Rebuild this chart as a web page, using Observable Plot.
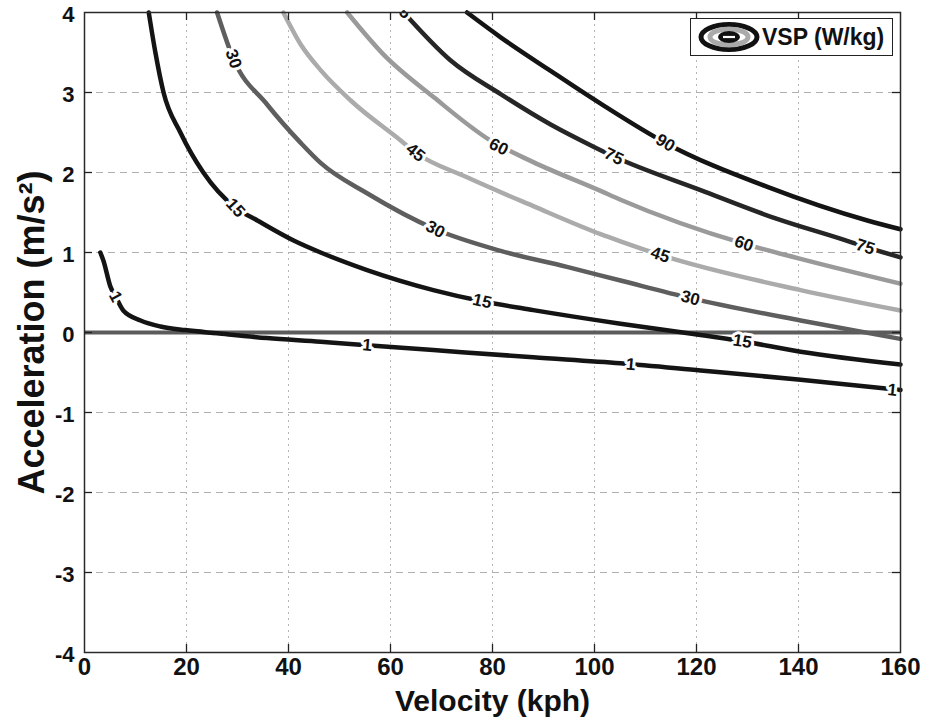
<!DOCTYPE html>
<html>
<head>
<meta charset="utf-8">
<script src="https://cdn.jsdelivr.net/npm/d3@7"></script>
<script src="https://cdn.jsdelivr.net/npm/@observablehq/plot@0.6"></script>
<style>
  body { margin: 0; background: #fff; font-family: "Liberation Sans", Arial, sans-serif; }
  #wrap { position: relative; width: 925px; height: 723px; }
  #legend { position: absolute; left: 690px; top: 18px; width: 203px; height: 38px;
            border: 1px solid #222; background: #fff; display: flex; align-items: center; box-sizing: border-box; }
  #legend span { font-weight: bold; font-size: 23px; margin-left: 1px; color: #111; }
</style>
</head>
<body>
<div id="wrap">
  <div id="legend">
    <svg width="70" height="32" viewBox="0 0 70 32">
      <ellipse cx="38" cy="16" rx="28" ry="12.5" fill="#fff" stroke="#111" stroke-width="5"/>
      <ellipse cx="38" cy="16" rx="19" ry="8" fill="none" stroke="#aaa" stroke-width="5"/>
      <ellipse cx="38" cy="16" rx="11" ry="6" fill="#111"/>
      <line x1="32" y1="16" x2="44" y2="16" stroke="#fff" stroke-width="2.2"/>
    </svg>
    <span>VSP (W/kg)</span>
  </div>
</div>
<script>
// ---- data ----
const xTicks = [0, 20, 40, 60, 80, 100, 120, 140, 160];
const yTicks = [-4, -3, -2, -1, 0, 1, 2, 3, 4];
const levels = [1, 15, 30, 45, 60, 75, 90];

// contour polylines [velocity kph, acceleration m/s2]
const vsp1 = [[3.1,1.0],[3.7,0.9],[5.1,0.57],[6.1,0.45],[7.6,0.275],[11.0,0.15],[14.9,0.075],[19.8,0.03],[26.0,-0.01],[35.8,-0.07],[46.3,-0.115],[55.4,-0.16],[68.4,-0.22],[88.0,-0.31],[105.1,-0.385],[120.8,-0.475],[140.4,-0.59],[160,-0.72]];
const vsp15 = [[12.6,4.0],[13.9,3.5],[15.5,3.0],[18.8,2.5],[23.3,2.0],[29.6,1.56],[33.9,1.4],[41.0,1.15],[46.3,1.0],[55.4,0.78],[68.4,0.53],[78.0,0.39],[88.0,0.28],[105.1,0.11],[120.8,-0.03],[129.0,-0.11],[140.4,-0.24],[160,-0.40]];
const vsp30 = [[26.0,4.0],[29.2,3.42],[35.8,2.85],[42.4,2.37],[46.3,2.12],[55.4,1.74],[68.8,1.29],[81.6,1.02],[94.6,0.82],[105.1,0.65],[118.8,0.43],[140.4,0.15],[160,-0.08]];
const vsp45 = [[39.0,4.0],[42.4,3.6],[46.3,3.28],[52.2,2.9],[62.0,2.4],[64.9,2.25],[75.0,1.94],[88.0,1.58],[101.2,1.23],[105.1,1.14],[112.9,0.97],[140.4,0.53],[160,0.275]];
const vsp60 = [[51.5,4.0],[58.7,3.47],[68.5,2.94],[79.6,2.4],[88.0,2.13],[101.2,1.77],[105.1,1.66],[129.3,1.11],[140.4,0.92],[160,0.61]];
const vsp75 = [[62.6,4.0],[71.8,3.4],[81.6,2.98],[91.4,2.6],[99.9,2.32],[103.8,2.2],[120.8,1.78],[135.8,1.42],[148.8,1.16],[153.1,1.07],[160,0.94]];
const vsp90 = [[75.0,4.0],[81.6,3.69],[91.4,3.27],[101.2,2.86],[113.9,2.37],[133.9,1.82],[153.5,1.40],[160,1.29]];
const curves = [vsp1, vsp15, vsp30, vsp45, vsp60, vsp75, vsp90];

// inline contour labels
const labelLevel = [1, 1, 1, 1, 15, 15, 15, 30, 30, 30, 45, 45, 60, 60, 75, 75, 75, 90];
const labelX = [6.1, 55.4, 107.1, 158.4, 29.6, 78.0, 129.0, 29.2, 68.8, 118.8, 64.9, 112.9, 81.2, 129.3, 62.2, 103.8, 153.1, 113.9];
const labelY = [0.45, -0.16, -0.40, -0.72, 1.56, 0.39, -0.11, 3.42, 1.29, 0.43, 2.25, 0.97, 2.32, 1.11, 4.04, 2.2, 1.07, 2.37];

// ---- styling ----
const levelColor = {1: "#141414", 15: "#141414", 30: "#5e5e5e", 45: "#ababab", 60: "#9a9a9a", 75: "#262626", 90: "#141414"};
const W = 925, H = 723, mL = 84, mR = 25, mT = 12, mB = 71;

const xs = Plot.scale({x: {domain: [0, 160], range: [mL, W - mR]}});
const ys = Plot.scale({y: {domain: [-4, 4], range: [H - mB, mT]}});

function angleAt(curve, lx) {
  let i = 0;
  while (i < curve.length - 2 && curve[i + 1][0] < lx) i++;
  const a = curve[i], b = curve[i + 1];
  const dx = xs.apply(b[0]) - xs.apply(a[0]);
  const dy = ys.apply(b[1]) - ys.apply(a[1]);
  return Math.atan2(dy, dx) * 180 / Math.PI;
}

const labels = labelLevel.map((lv, i) => ({
  level: lv, x: labelX[i], y: labelY[i],
  angle: angleAt(curves[levels.indexOf(lv)], labelX[i])
}));

const tyLen = 8 * 8 / (H - mB - mT);
const txLen = 8 * 160 / (W - mL - mR);

const marks = [
  Plot.ruleX(xTicks.slice(1, -1), {x: d => d, stroke: "#b5b5b5", strokeWidth: 1, strokeDasharray: "2,4"}),
  Plot.ruleY(yTicks.slice(1, -1), {y: d => d, stroke: "#b0b0b0", strokeWidth: 1, strokeDasharray: "7,5"}),
  Plot.ruleY([0], {x1: 0, x2: 160, stroke: "#5c5c5c", strokeWidth: 4}),
  ...curves.map((c, i) => Plot.line(c, {
    x: d => d[0], y: d => d[1], stroke: levelColor[levels[i]], strokeWidth: 4.5,
    curve: "monotone-x", strokeLinejoin: "round"
  })),
  Plot.text(labels, {
    x: "x", y: "y", text: d => String(d.level), rotate: "angle",
    fontSize: 17, fontWeight: "bold", fill: "#111",
    stroke: "white", strokeWidth: 6, paintOrder: "stroke", clip: true
  }),
  Plot.frame({stroke: "#2a2a2a", strokeWidth: 1.5}),
  Plot.ruleX(xTicks.slice(1, -1), {x: d => d, y1: -4, y2: -4 + tyLen, stroke: "#222", strokeWidth: 1.3}),
  Plot.ruleX(xTicks.slice(1, -1), {x: d => d, y1: 4, y2: 4 - tyLen, stroke: "#222", strokeWidth: 1.3}),
  Plot.ruleY(yTicks.slice(1, -1), {y: d => d, x1: 0, x2: txLen, stroke: "#222", strokeWidth: 1.3}),
  Plot.ruleY(yTicks.slice(1, -1), {y: d => d, x1: 160, x2: 160 - txLen, stroke: "#222", strokeWidth: 1.3}),
  Plot.axisX({ticks: xTicks, tickSize: 0, tickPadding: 5, fontSize: 24, fontWeight: "bold",
              tickFormat: d => String(d), label: null}),
  Plot.axisY({ticks: yTicks, tickSize: 0, tickPadding: 10, dy: 2, fontSize: 22, fontWeight: "bold",
              tickFormat: d => String(d), label: null}),
  Plot.text(["Velocity (kph)"], {frameAnchor: "bottom", dy: 49, lineAnchor: "middle", textAnchor: "middle",
              text: d => d, fontSize: 30, fontWeight: "bold", fill: "#111"}),
  Plot.text(["Acceleration (m/s²)"], {frameAnchor: "left", dx: -52, rotate: -90, textAnchor: "middle", lineAnchor: "middle",
              text: d => d, fontSize: 36, fontWeight: "bold", fill: "#111"})
];

const chart = Plot.plot({
  width: W, height: H,
  marginLeft: mL, marginRight: mR, marginTop: mT, marginBottom: mB,
  x: {domain: [0, 160]},
  y: {domain: [-4, 4]},
  style: {fontFamily: "'Liberation Sans', Arial, sans-serif", background: "white", color: "#111"},
  marks
});
document.getElementById("wrap").prepend(chart);
</script>
</body>
</html>
